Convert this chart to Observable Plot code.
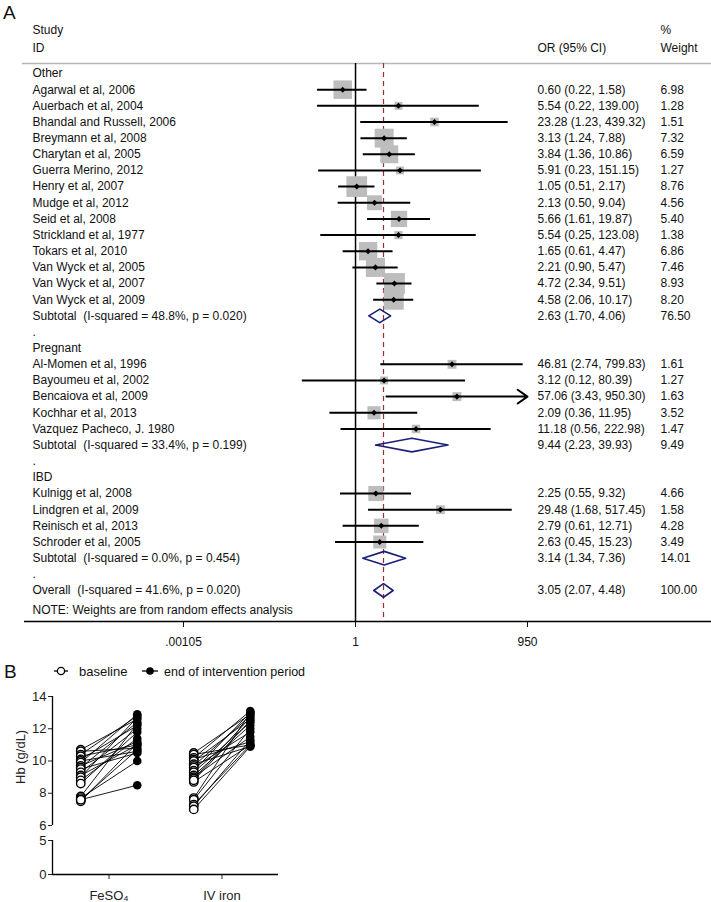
<!DOCTYPE html>
<html><head><meta charset="utf-8">
<script src="https://cdn.jsdelivr.net/npm/d3@7"></script>
<script src="https://cdn.jsdelivr.net/npm/@observablehq/plot@0.6"></script>
<style>
body{margin:0;background:#fff;}
#fig{position:relative;width:711px;height:902px;overflow:hidden;font-family:"Liberation Sans",Arial,sans-serif;color:#111;background:#fff;}
#fig svg{overflow:visible;}
#fig svg text{white-space:pre;}
.panel{position:absolute;left:0;}
.lab{position:absolute;font-size:19px;line-height:1;z-index:5;}
</style></head><body>
<div id="fig">
  <div id="a" class="panel" style="top:0"></div>
  <div class="lab" style="left:3px;top:3px">A</div>
  <div class="lab" style="left:4px;top:662px">B</div>
  <div id="b2" class="panel" style="top:830px"></div>
  <div id="b1" class="panel" style="top:680px"></div>
  <svg id="legend" width="330" height="20" style="position:absolute;left:0;top:661px;z-index:4">
    <line x1="54" x2="68" y1="10" y2="10" stroke="#000" stroke-width="1.3"/>
    <circle cx="61" cy="10" r="3.6" fill="#fff" stroke="#000" stroke-width="1.3"/>
    <text x="79" y="14.5" font-size="13" fill="#111">baseline</text>
    <line x1="142" x2="158" y1="10" y2="10" stroke="#000" stroke-width="1.3"/>
    <circle cx="150" cy="10" r="3.8" fill="#000"/>
    <text x="164" y="14.5" font-size="12.5" fill="#111">end of intervention period</text>
  </svg>
</div>
<script>
// ---------- Panel A data ----------
const rowLabels = [
  "Other",
  "Agarwal et al, 2006","Auerbach et al, 2004","Bhandal and Russell, 2006","Breymann et al, 2008",
  "Charytan et al, 2005","Guerra Merino, 2012","Henry et al, 2007","Mudge et al, 2012",
  "Seid et al, 2008","Strickland et al, 1977","Tokars et al, 2010","Van Wyck et al, 2005",
  "Van Wyck et al, 2007","Van Wyck et al, 2009",
  "Subtotal  (I-squared = 48.8%, p = 0.020)",
  ".",
  "Pregnant",
  "Al-Momen et al, 1996","Bayoumeu et al, 2002","Bencaiova et al, 2009","Kochhar et al, 2013",
  "Vazquez Pacheco, J. 1980",
  "Subtotal  (I-squared = 33.4%, p = 0.199)",
  ".",
  "IBD",
  "Kulnigg et al, 2008","Lindgren et al, 2009","Reinisch et al, 2013","Schroder et al, 2005",
  "Subtotal  (I-squared = 0.0%, p = 0.454)",
  ".",
  "Overall  (I-squared = 41.6%, p = 0.020)"
];
const rowKinds = [
  "group",
  "study","study","study","study","study","study","study","study","study","study","study","study","study","study",
  "pooled","spacer","group",
  "study","study","study","study","study",
  "pooled","spacer","group",
  "study","study","study","study",
  "pooled","spacer","overall"
];
const oddsRatio = [null,
  0.60,5.54,23.28,3.13,3.84,5.91,1.05,2.13,5.66,5.54,1.65,2.21,4.72,4.58,
  2.63,null,null,
  46.81,3.12,57.06,2.09,11.18,
  9.44,null,null,
  2.25,29.48,2.79,2.63,
  3.14,null,3.05];
const ciLower = [null,
  0.22,0.22,1.23,1.24,1.36,0.23,0.51,0.50,1.61,0.25,0.61,0.90,2.34,2.06,
  1.70,null,null,
  2.74,0.12,3.43,0.36,0.56,
  2.23,null,null,
  0.55,1.68,0.61,0.45,
  1.34,null,2.07];
const ciUpper = [null,
  1.58,139.00,439.32,7.88,10.86,151.15,2.17,9.04,19.87,123.08,4.47,5.47,9.51,10.17,
  4.06,null,null,
  799.83,80.39,950.30,11.95,222.98,
  39.93,null,null,
  9.32,517.45,12.71,15.23,
  7.36,null,4.48];
const weightPct = [null,
  6.98,1.28,1.51,7.32,6.59,1.27,8.76,4.56,5.40,1.38,6.86,7.46,8.93,8.20,
  76.50,null,null,
  1.61,1.27,1.63,3.52,1.47,
  9.49,null,null,
  4.66,1.58,4.28,3.49,
  14.01,null,100.00];
const xTicks = [0.00105, 1, 950];
const xTickLabels = [".00105", "1", "950"];
const headerTop = ["Study", "%"];
const headerBottom = ["ID", "OR (95% CI)", "Weight"];
const noteText = "NOTE: Weights are from random effects analysis";

// ---------- Panel B data ----------
const groups = ["FeSO\u2084", "IV iron"];
const feBaseline = [10.7,10.6,10.4,10.3,10.1,10.0,9.9,9.7,9.6,9.5,9.3,9.1,9.0,8.8,8.6,7.8,7.7,7.6,7.5,7.6];
const feEnd      = [12.6,10.8,12.8,11.0,12.2,10.6,12.9,11.2,12.4,10.5,12.0,11.0,12.7,11.4,11.8,12.3,10.0,8.5,11.1,10.7];
const ivBaseline = [10.5,10.4,10.2,10.1,10.0,9.8,9.7,9.6,9.4,9.3,9.1,9.0,8.9,8.7,8.8,7.7,7.6,7.3,7.2,7.0];
const ivEnd      = [12.9,11.0,13.1,11.2,12.6,10.9,12.8,11.8,13.0,12.4,12.2,11.5,12.7,11.0,12.5,13.0,12.0,11.0,11.3,10.9];
const yTicksUpper = [6, 8, 10, 12, 14];
const yTicksLower = [0, 5];

// ---------- Panel A ----------
const rows = rowLabels.map((label, i) => ({
  i, label, kind: rowKinds[i], or: oddsRatio[i], lo: ciLower[i], hi: ciUpper[i], w: weightPct[i]
}));
const xDomain = [xTicks[0], xTicks[2]];
const yDomain = [-0.62, 33.92];
const studies = rows.filter(d => d.kind === "study");
const inside = studies.filter(d => d.hi <= xDomain[1]);
const beyond = studies.filter(d => d.hi > xDomain[1]);
const pooled = rows.filter(d => d.kind === "pooled" || d.kind === "overall");
const overall = rows.find(d => d.kind === "overall");
const valued = rows.filter(d => d.or != null);
const dh = 0.42;
const diamondPts = pooled.flatMap(d => [
  {id: d.i, x: d.lo, y: d.i}, {id: d.i, x: d.or, y: d.i - dh},
  {id: d.i, x: d.hi, y: d.i}, {id: d.i, x: d.or, y: d.i + dh},
  {id: d.i, x: d.lo, y: d.i}
]);
const f2 = v => v.toFixed(2);
const fontA = '"Liberation Sans", Arial, sans-serif';

const plotA = Plot.plot({
  width: 711, height: 655,
  marginTop: 63, marginBottom: 34, marginLeft: 0, marginRight: 0,
  style: {fontFamily: fontA, fontSize: "12px", color: "#111", background: "transparent", overflow: "visible"},
  x: {type: "log", domain: xDomain, range: [183, 527], ticks: xTicks,
      tickFormat: d => xTickLabels[xTicks.indexOf(d)], tickSize: 6, tickPadding: 10, label: null},
  y: {domain: yDomain, range: [63, 621], axis: null},
  r: {type: "sqrt", domain: [0, 100], range: [0, 39.5]},
  marks: [
    Plot.ruleY([yDomain[0]], {stroke: "#b8b8b8", strokeWidth: 1.5, insetLeft: 22}),
    Plot.ruleY([yDomain[1]], {stroke: "#000", strokeWidth: 1.5, insetLeft: 24}),
    Plot.ruleX([1], {stroke: "#000", strokeWidth: 1.5}),
    Plot.ruleX([overall.or], {stroke: "#9b2d33", strokeWidth: 1.2, strokeDasharray: "5,4"}),
    Plot.dot(studies, {x: "or", y: "i", r: "w", symbol: "square", fill: "#bdbdbd"}),
    Plot.ruleY(inside, {y: "i", x1: "lo", x2: "hi", stroke: "#000", strokeWidth: 2}),
    Plot.arrow(beyond, {x1: "lo", x2: () => xDomain[1], y1: "i", y2: "i", stroke: "#000", strokeWidth: 2, headLength: 9, headAngle: 70}),
    Plot.dot(studies, {x: "or", y: "i", r: 2.4, symbol: "square", rotate: 45, fill: "#000"}),
    Plot.line(diamondPts, {x: "x", y: "y", z: "id", stroke: "#1b1f78", strokeWidth: 1.6, fill: "none", curve: "linear"}),
    Plot.text(rows, {frameAnchor: "left", y: "i", text: "label", dx: 32, textAnchor: "start", fill: "#111"}),
    Plot.text(valued, {frameAnchor: "left", y: "i", text: d => `${f2(d.or)} (${f2(d.lo)}, ${f2(d.hi)})`, dx: 537, textAnchor: "start", fill: "#111"}),
    Plot.text(valued, {frameAnchor: "left", y: "i", text: d => f2(d.w), dx: 660, textAnchor: "start", fill: "#111"}),
    Plot.text([headerTop[0]], {frameAnchor: "top-left", dx: 32, dy: -38, textAnchor: "start", fill: "#111"}),
    Plot.text([headerTop[1]], {frameAnchor: "top-left", dx: 660, dy: -38, textAnchor: "start", fill: "#111"}),
    Plot.text([headerBottom[0]], {frameAnchor: "top-left", dx: 32, dy: -20, textAnchor: "start", fill: "#111"}),
    Plot.text([headerBottom[1]], {frameAnchor: "top-left", dx: 537, dy: -20, textAnchor: "start", fill: "#111"}),
    Plot.text([headerBottom[2]], {frameAnchor: "top-left", dx: 660, dy: -20, textAnchor: "start", fill: "#111"}),
    Plot.text([noteText], {frameAnchor: "bottom-left", dx: 32, dy: -8, textAnchor: "start", fill: "#111"})
  ]
});
document.getElementById("a").append(plotA);

// ---------- Panel B (broken y axis: upper 6–14, lower 0–5) ----------
const dodge = {baseline: -0.25, end: 0.25};
const pairs = [
  ...feBaseline.map((b, k) => ({g: 0, b, e: feEnd[k]})),
  ...ivBaseline.map((b, k) => ({g: 1, b, e: ivEnd[k]}))
];
const xDomainB = [-0.5, 1.5];
const styleB = {fontFamily: fontA, fontSize: "13px", color: "#222", background: "transparent", overflow: "visible"};
const intFmt = d => String(d);

const plotB1 = Plot.plot({
  width: 711, height: 150,
  marginTop: 16, marginBottom: 5, marginLeft: 52, marginRight: 433,
  style: styleB,
  x: {domain: xDomainB, range: [52, 278], axis: null},
  y: {domain: [yTicksUpper[0], yTicksUpper[4]], range: [145, 16], ticks: yTicksUpper, tickFormat: intFmt, tickSize: 4, tickPadding: 2, label: null},
  marks: [
    Plot.ruleX([xDomainB[0]], {y1: yTicksUpper[0], y2: yTicksUpper[4], stroke: "#000", strokeWidth: 1.3}),
    Plot.link(pairs, {x1: d => d.g + dodge.baseline, y1: "b", x2: d => d.g + dodge.end, y2: "e", stroke: "#000", strokeWidth: 0.9}),
    Plot.dot(pairs, {x: d => d.g + dodge.baseline, y: "b", r: 4.2, fill: "#fff", stroke: "#000", strokeWidth: 1.4}),
    Plot.dot(pairs, {x: d => d.g + dodge.end, y: "e", r: 4.3, fill: "#000"}),
    Plot.text(["Hb (g/dL)"], {frameAnchor: "left", dx: -32, dy: 23, rotate: -90, fill: "#222", fontSize: 13})
  ]
});
document.getElementById("b1").append(plotB1);

const plotB2 = Plot.plot({
  width: 711, height: 72,
  marginTop: 10, marginBottom: 28, marginLeft: 52, marginRight: 433,
  style: styleB,
  x: {domain: xDomainB, range: [52, 278], ticks: [0, 1], tickFormat: i => groups[i], tickSize: 5, tickPadding: 11, label: null},
  y: {domain: yTicksLower, range: [44, 10], ticks: yTicksLower, tickFormat: intFmt, tickSize: 4, tickPadding: 2, label: null},
  marks: [
    Plot.ruleX([xDomainB[0]], {y1: yTicksLower[0], y2: yTicksLower[1], stroke: "#000", strokeWidth: 1.3}),
    Plot.ruleY([yTicksLower[0]], {stroke: "#000", strokeWidth: 1.3})
  ]
});
document.getElementById("b2").append(plotB2);
</script>
</body></html>
